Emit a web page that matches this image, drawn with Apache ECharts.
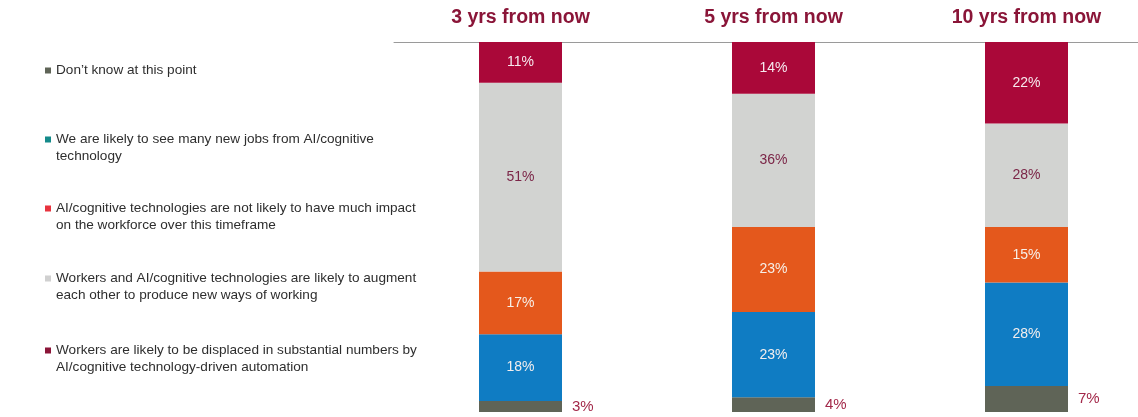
<!DOCTYPE html>
<html>
<head>
<meta charset="utf-8">
<script src="https://cdn.jsdelivr.net/npm/echarts@6/dist/echarts.min.js"></script>
<style>
  html, body { margin: 0; padding: 0; background: #fff; }
  #chart { width: 1138px; height: 417px; }
</style>
</head>
<body>
<div id="chart"></div>
<script>
// Time horizons shown across the top
const horizons = ['3 yrs from now', '5 yrs from now', '10 yrs from now'];

// Share of respondents (%) per answer, stacked bottom to top
const dontKnow  = [3, 4, 7];
const newJobs   = [18, 23, 28];
const noImpact  = [17, 23, 15];
const augment   = [51, 36, 28];
const displaced = [11, 14, 22];

// Answer labels (legend wording)
const answerNames = [
  "Don\u2019t know at this point",
  'We are likely to see many new jobs from AI/cognitive\ntechnology',
  'AI/cognitive technologies are not likely to have much impact\non the workforce over this timeframe',
  'Workers and AI/cognitive technologies are likely to augment\neach other to produce new ways of working',
  'Workers are likely to be displaced in substantial numbers by\nAI/cognitive technology-driven automation'
];

const FONT = '"Liberation Sans", Arial, sans-serif';
const barColors  = ['#5f6457', '#0f7cc3', '#e4581c', '#d2d3d1', '#aa0839'];
const keyColors  = ['#5f6457', '#148a8a', '#e8333e', '#d0d0d0', '#8b1538'];
const labelColors = ['#a3294a', '#f3eeee', '#f6efe8', '#7b2547', '#f6eaee'];
const legendTops = [62, 131, 200, 270, 342];

// Square key sitting beside the first text line; the zero-area tail only
// stretches the symbol box so the square lines up with line one.
const squareKey = 'path://M0,0L6,0L6,6L0,6Z M0,23L6,23';

const seriesValues = [dontKnow, newJobs, noImpact, augment, displaced];

const series = seriesValues.map((vals, i) => ({
  name: answerNames[i],
  type: 'bar',
  stack: 'total',
  barWidth: 83,
  data: vals,
  itemStyle: { color: barColors[i] },
  label: {
    show: true,
    position: i === 0 ? 'right' : 'inside',
    distance: 10,
    formatter: '{c}%',
    color: labelColors[i],
    fontFamily: FONT,
    fontSize: i === 0 ? 15 : 14
  }
}));

const legends = answerNames.map((name, i) => {
  const twoLine = name.indexOf('\n') >= 0;
  return {
    left: 45,
    top: legendTops[i],
    padding: 0,
    orient: 'vertical',
    selectedMode: false,
    icon: twoLine ? squareKey : 'rect',
    itemWidth: 6,
    itemHeight: twoLine ? 23 : 6,
    itemGap: 0,
    data: [{ name: name, itemStyle: { color: keyColors[i], borderWidth: 0 } }],
    textStyle: {
      fontFamily: FONT,
      fontSize: 13.6,
      lineHeight: 17,
      color: '#2e2e2e'
    }
  };
});

const chart = echarts.init(document.getElementById('chart'), null, { renderer: 'canvas' });
chart.setOption({
  backgroundColor: '#fff',
  animation: false,
  legend: legends,
  // the last column runs past the right edge, so the grid may not be clamped
  grid: { left: 394, top: 42, bottom: 5, width: 759, outerBoundsMode: 'none', containLabel: false },
  xAxis: {
    type: 'category',
    position: 'top',
    data: horizons,
    axisLine: { onZero: false, lineStyle: { color: '#9a9a9a', width: 1 } },
    axisTick: { show: false },
    axisLabel: {
      margin: 14,
      fontFamily: FONT,
      fontSize: 19.5,
      fontWeight: 'bold',
      color: '#8a1538'
    }
  },
  yAxis: {
    type: 'value',
    min: 0,
    max: 100,
    show: false,
    splitLine: { show: false }
  },
  series: series
});
</script>
</body>
</html>
